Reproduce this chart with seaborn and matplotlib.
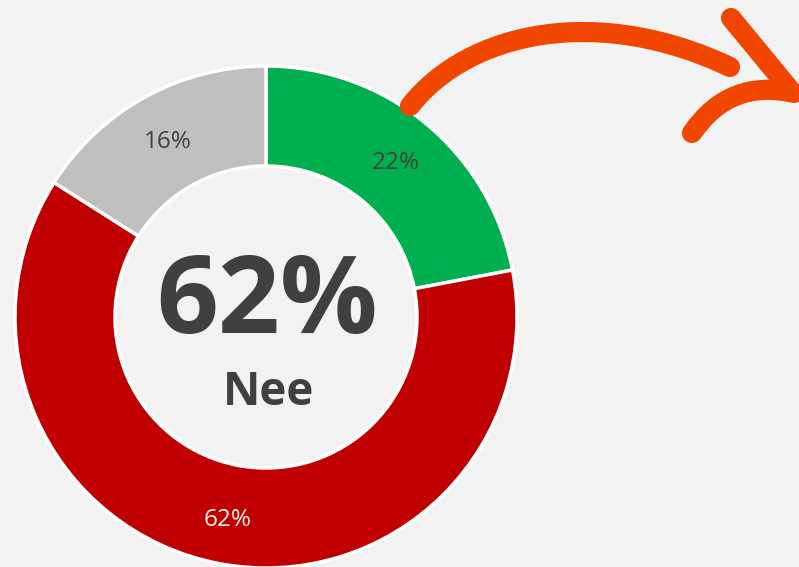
import seaborn as sns
import matplotlib.pyplot as plt
from matplotlib.path import Path
from matplotlib.patches import PathPatch

# data
categories = ['Ja', 'Nee', 'Weet niet']
shares = [22, 62, 16]
slice_colors = ['#00B050', '#C00000', '#BFBFBF']
label_colors = ['#404040', '#F2F2F2', '#404040']
center_value = '62%'
center_label = 'Nee'

sns.set_theme(style='white', rc={'figure.facecolor': '#F2F2F2', 'axes.facecolor': '#F2F2F2'})
plt.rcParams['font.family'] = ['Open Sans', 'DejaVu Sans']

W, H = 799, 567
fig = plt.figure(figsize=(W / 100, H / 100), dpi=100)
ax = fig.add_axes([0, 0, 1, 1])

wedges, texts, autotexts = ax.pie(
    shares, colors=slice_colors, startangle=90, counterclock=False,
    center=(266, H - 317), radius=251, pctdistance=0.81,
    autopct='%.0f%%', textprops={'fontsize': 17.5},
    wedgeprops={'width': 100, 'edgecolor': 'white', 'linewidth': 2.5})
for t, c in zip(autotexts, label_colors):
    t.set_color(c)
    t.set_va('center_baseline')

ax.text(267, H - 333, center_value, ha='center', va='baseline',
        fontsize=78, fontweight='bold', color='#404040')
ax.text(269, H - 405, center_label, ha='center', va='baseline',
        fontsize=33, fontweight='bold', color='#404040')


def stroke(points, codes):
    pts = [(x, H - y) for x, y in points]
    patch = PathPatch(Path(pts, codes), facecolor='none', edgecolor='#F04600',
                      linewidth=14.5, capstyle='round', joinstyle='round')
    ax.add_patch(patch)


C = Path.CURVE4
Q = Path.CURVE3
# arrow body
stroke([(410, 106), (470, 30), (600, 5), (730, 67)], [Path.MOVETO, C, C, C])
# arrow head
stroke([(731, 18), (792, 92)], [Path.MOVETO, Path.LINETO])
stroke([(794, 93), (730, 78), (692, 133)], [Path.MOVETO, Q, Q])

ax.set_xlim(0, W)
ax.set_ylim(0, H)
ax.set_aspect('auto')
ax.axis('off')

fig.savefig('out.png', dpi=100, facecolor='#F2F2F2')
